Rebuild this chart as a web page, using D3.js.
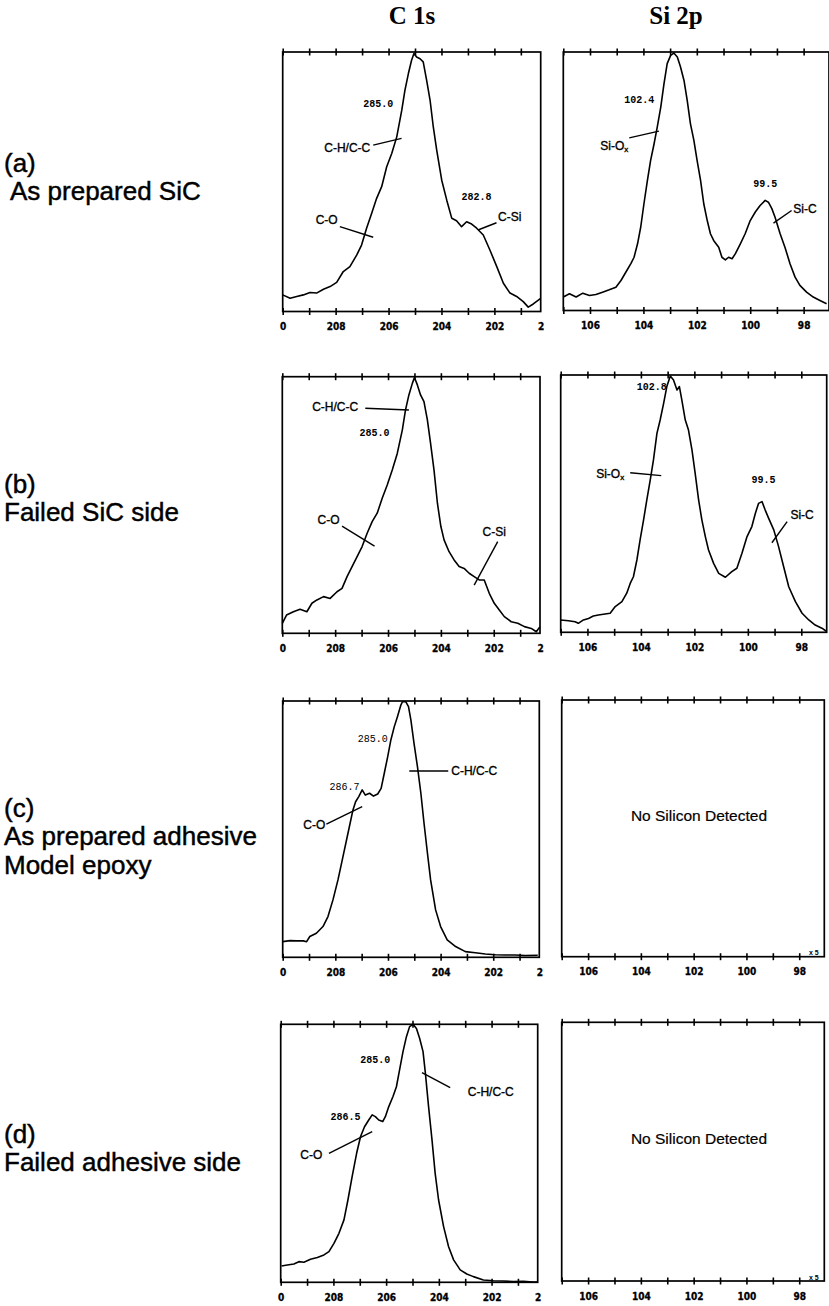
<!DOCTYPE html>
<html lang="en">
<head>
<meta charset="UTF-8">
<title>XPS C 1s and Si 2p spectra</title>
<script src="https://cdn.jsdelivr.net/npm/d3@7"></script>
<style>
  body { margin: 0; background: #fff; }
  .box { fill: none; stroke: #000; stroke-width: 1.7px; }
  .spec { fill: none; stroke: #000; stroke-width: 1.6px; stroke-linejoin: round; }
  .tick-x line { stroke: #000; stroke-width: 1.6px; }
  .tick-x path { display: none; }
  .lab-x path { display: none; }
  .lab-x text { font: bold 10px "Liberation Sans Narrow", "DejaVu Sans Condensed", sans-serif; fill: #000; stroke: #000; stroke-width: 0.3px; }
  .lead { stroke: #000; stroke-width: 1.4px; }
  .note { font: 12px "Liberation Sans", Arial, sans-serif; fill: #000; stroke: #000; stroke-width: 0.35px; }
  .num { font: bold 10px "Liberation Mono", "DejaVu Sans Mono", monospace; fill: #000; }
  .none { font: 15.5px "Liberation Sans", Arial, sans-serif; fill: #000; stroke: #000; stroke-width: 0.2px; }
  .mark { font: bold 7px "Liberation Sans", Arial, sans-serif; fill: #000; }
  .head { font: bold 25px "Liberation Serif", "Times New Roman", serif; fill: #000; }
  .rowlab { font: 26px "Liberation Sans", Arial, sans-serif; fill: #000; stroke: #000; stroke-width: 0.45px; }
</style>
</head>
<body>
<div id="chart"></div>
<script>
// column titles and row captions
const columnTitles = ["C 1s", "Si 2p"];
const rowCaptions = [
  ["(a)", " As prepared SiC"],
  ["(b)", "Failed SiC side"],
  ["(c)", "As prepared adhesive", "Model epoxy"],
  ["(d)", "Failed adhesive side"]
];

// axis ticks (binding energy, eV)
const c1sTicks = [210, 209, 208, 207, 206, 205, 204, 203, 202, 201];
const c1sLabelAt = [210, 208, 206, 204, 202, 200.25];
const c1sLabelText = ["0", "208", "206", "204", "202", "2"];
const siTicks = [107, 106, 105, 104, 103, 102, 101, 100, 99, 98, 97];
const siLabelAt = [106, 104, 102, 100, 98];
const siLabelText = ["106", "104", "102", "100", "98"];

// spectra: [binding energy, relative intensity]
const c1sA = [[210.00,6.4],[209.72,5.1],[209.47,5.8],[209.22,6.4],[208.97,7.3],[208.72,7.1],[208.46,8.6],[208.21,9.6],[207.96,11.2],[207.71,15.4],[207.46,17.3],[207.20,21.8],[207.02,25.6],[206.83,32.1],[206.64,37.8],[206.45,43.6],[206.26,48.1],[206.07,55.8],[205.88,60.9],[205.69,67.3],[205.50,77.6],[205.38,85.3],[205.25,91.7],[205.13,96.8],[205.04,99.4],[204.94,98.1],[204.81,97.4],[204.69,96.2],[204.56,89.1],[204.43,81.4],[204.31,71.2],[204.18,62.2],[203.99,50.6],[203.80,42.9],[203.61,35.9],[203.43,35.0],[203.24,32.7],[203.05,34.6],[202.86,33.7],[202.67,32.1],[202.42,29.5],[202.17,23.7],[201.91,17.3],[201.66,10.9],[201.41,7.1],[201.16,5.8],[200.91,3.8],[200.72,1.7],[200.53,2.9],[200.25,5.1]];

const siA = [[107.00,5.2],[106.77,6.5],[106.52,5.2],[106.27,6.7],[106.02,5.8],[105.78,6.2],[105.53,7.1],[105.28,8.0],[105.03,9.0],[104.84,11.6],[104.66,14.8],[104.47,18.1],[104.35,20.6],[104.22,25.8],[104.10,32.3],[103.98,41.3],[103.85,50.3],[103.73,58.1],[103.60,64.5],[103.48,71.0],[103.35,78.7],[103.23,87.7],[103.11,95.5],[102.98,98.7],[102.86,99.6],[102.73,98.1],[102.61,94.2],[102.48,89.0],[102.36,81.3],[102.24,72.3],[102.11,65.8],[101.99,58.1],[101.86,50.3],[101.74,41.3],[101.61,34.8],[101.49,29.7],[101.37,27.1],[101.18,24.5],[101.06,20.6],[100.93,19.6],[100.81,20.6],[100.68,20.0],[100.56,21.9],[100.37,25.8],[100.19,29.7],[100.00,34.8],[99.81,38.1],[99.63,40.6],[99.44,42.6],[99.32,41.9],[99.19,39.4],[99.07,36.1],[98.88,29.7],[98.70,24.5],[98.51,18.1],[98.32,12.9],[98.14,9.7],[97.89,7.1],[97.64,5.2],[97.39,3.9],[97.14,2.6]];

const c1sB = [[210.00,3.9],[209.84,7.1],[209.58,8.4],[209.33,9.4],[209.07,8.4],[208.88,11.7],[208.69,13.0],[208.44,14.3],[208.19,13.6],[207.93,16.2],[207.74,17.5],[207.55,22.1],[207.36,26.0],[207.17,29.9],[206.98,33.8],[206.79,39.0],[206.60,43.5],[206.41,46.8],[206.22,52.6],[206.03,57.8],[205.84,63.6],[205.65,70.1],[205.46,79.2],[205.34,87.0],[205.21,92.9],[205.08,97.4],[205.00,99.7],[204.89,96.8],[204.77,92.9],[204.64,90.3],[204.51,83.1],[204.39,74.0],[204.26,63.6],[204.13,50.6],[204.00,41.6],[203.88,36.4],[203.69,31.8],[203.50,28.6],[203.31,26.0],[203.12,25.3],[202.93,23.4],[202.74,22.1],[202.55,20.8],[202.36,20.8],[202.17,15.6],[201.98,11.7],[201.79,9.1],[201.60,6.5],[201.34,4.5],[201.09,3.9],[200.84,2.6],[200.58,1.9],[200.39,0.6],[200.25,2.6]];

const siB = [[107.00,4.8],[106.71,4.5],[106.46,4.1],[106.34,3.5],[106.15,4.8],[105.96,5.4],[105.78,6.3],[105.59,6.7],[105.34,7.1],[105.15,7.4],[104.96,10.0],[104.71,11.9],[104.53,15.2],[104.40,19.0],[104.28,21.6],[104.15,28.1],[104.03,35.9],[103.90,43.7],[103.78,51.4],[103.65,59.2],[103.53,67.0],[103.40,77.3],[103.28,82.5],[103.15,89.0],[103.03,95.5],[102.90,99.6],[102.78,98.1],[102.65,94.2],[102.56,95.5],[102.47,90.3],[102.34,82.5],[102.22,78.6],[102.09,70.9],[101.97,61.8],[101.84,51.4],[101.72,43.7],[101.59,37.2],[101.47,32.0],[101.28,26.8],[101.09,22.9],[100.84,21.4],[100.60,23.6],[100.41,24.9],[100.22,30.7],[100.03,37.2],[99.85,41.1],[99.72,46.2],[99.60,50.1],[99.47,50.8],[99.35,47.5],[99.22,44.3],[99.03,39.8],[98.85,33.3],[98.66,25.5],[98.47,17.7],[98.22,11.9],[97.97,7.4],[97.72,4.8],[97.48,2.8],[97.23,1.6],[97.05,0.3]];

const c1sC = [[210.00,6.1],[209.72,6.5],[209.47,6.4],[209.22,6.4],[209.09,6.1],[208.97,8.1],[208.72,9.4],[208.47,12.0],[208.28,15.9],[208.09,22.4],[207.90,30.2],[207.71,39.3],[207.52,48.4],[207.33,57.5],[207.23,60.7],[207.11,62.7],[206.98,65.3],[206.86,63.3],[206.70,64.0],[206.55,62.9],[206.39,63.7],[206.26,65.9],[206.14,71.8],[206.01,78.3],[205.89,84.8],[205.76,90.0],[205.64,93.9],[205.51,98.4],[205.45,99.7],[205.32,99.7],[205.22,97.8],[205.13,92.6],[205.01,83.5],[204.88,74.4],[204.75,64.0],[204.63,52.3],[204.50,40.6],[204.38,30.2],[204.19,18.5],[204.00,12.0],[203.75,6.8],[203.43,4.2],[203.06,2.2],[202.68,1.8],[202.30,1.3],[201.92,1.0],[201.55,0.9],[201.17,0.9],[200.79,0.7],[200.31,0.8]];

const c1sD = [[209.97,6.3],[209.75,6.7],[209.50,7.1],[209.31,8.0],[209.12,7.8],[208.87,8.9],[208.61,9.6],[208.36,10.6],[208.17,11.9],[207.98,15.1],[207.79,19.0],[207.60,24.2],[207.45,31.9],[207.29,41.0],[207.12,50.0],[206.97,56.5],[206.82,60.3],[206.66,62.9],[206.53,64.9],[206.41,64.2],[206.28,62.9],[206.13,62.3],[206.03,64.2],[205.90,68.1],[205.74,72.0],[205.61,75.8],[205.49,82.3],[205.36,89.4],[205.23,95.2],[205.11,99.1],[204.98,100],[204.85,98.4],[204.73,94.6],[204.60,89.4],[204.51,81.0],[204.39,68.1],[204.26,55.2],[204.14,42.2],[204.01,31.9],[203.82,21.6],[203.63,13.8],[203.44,8.7],[203.19,4.8],[202.94,3.2],[202.69,2.2],[202.31,0.9],[201.93,0.6],[201.55,0.5],[201.17,0.3],[200.80,0.4],[200.42,0.1],[200.25,0.1]];

// peak annotations: label position [eV, intensity], optional leader line
const c1sANotes = [
  { t: "285.0", num: true, e: 206.39, v: 80.2 },
  { t: "C-H/C-C", e: 207.56, v: 63.1, line: [206.58, 64.1, 205.51, 66.7] },
  { t: "C-O", e: 208.34, v: 35.3, line: [207.84, 32.7, 206.58, 28.6] },
  { t: "282.8", num: true, e: 202.68, v: 44.2 },
  { t: "C-Si", e: 201.42, v: 36.5, line: [201.92, 34.2, 202.62, 31.4] }
];
const siANotes = [
  { t: "102.4", num: true, e: 104.16, v: 81.5 },
  { t: "Si-O", sub: "x", e: 105.09, v: 63.9, line: [104.53, 66.8, 103.42, 69.4] },
  { t: "99.5", num: true, e: 99.44, v: 49.0 },
  { t: "Si-C", e: 97.95, v: 39.4, line: [98.45, 38.7, 99.13, 33.8] }
];
const c1sBNotes = [
  { t: "C-H/C-C", e: 208.0, v: 88.1, line: [206.86, 87.7, 205.21, 87.0] },
  { t: "285.0", num: true, e: 206.51, v: 78.2 },
  { t: "C-O", e: 208.25, v: 44.4, line: [207.74, 41.8, 206.51, 34.0] },
  { t: "C-Si", e: 201.98, v: 39.6, line: [201.85, 35.7, 202.74, 18.8] }
];
const siBNotes = [
  { t: "102.8", num: true, e: 103.59, v: 95.5 },
  { t: "Si-O", sub: "x", e: 105.15, v: 61.5, line: [104.40, 62.0, 103.24, 60.9] },
  { t: "99.5", num: true, e: 99.41, v: 59.5 },
  { t: "Si-C", e: 97.97, v: 45.6, line: [98.53, 43.0, 99.10, 34.8] }
];
const c1sCNotes = [
  { t: "285.0", num: true, thin: true, e: 206.58, v: 85.4 },
  { t: "286.7", num: true, thin: true, e: 207.65, v: 66.8 },
  { t: "C-H/C-C", e: 202.72, v: 72.7, line: [205.19, 72.7, 203.71, 72.7] },
  { t: "C-O", e: 208.80, v: 51.6, line: [208.34, 52.0, 206.98, 58.8] }
];
const c1sDNotes = [
  { t: "285.0", num: true, e: 206.41, v: 86.2 },
  { t: "286.5", num: true, e: 207.54, v: 64.2 },
  { t: "C-H/C-C", e: 202.03, v: 73.9, line: [204.64, 81.3, 203.57, 75.5] },
  { t: "C-O", e: 208.84, v: 49.4, line: [208.17, 50.0, 206.53, 58.4] }
];
const noSiNotes = [
  { t: "No Silicon Detected", big: true, e: 101.8, v: 55 },
  { t: "x 5", mark: true, e: 97.45, v: 1.5 }
];

// panel frames
const panels = [
  { kind: "c1s", x0: 282.7, x1: 540.7, y0: 52,    y1: 311.5,  data: c1sA, notes: c1sANotes },
  { kind: "si",  x0: 563.3, x1: 829,   y0: 52,    y1: 310.5,  data: siA,  notes: siANotes },
  { kind: "c1s", x0: 282.3, x1: 540,   y0: 376.7, y1: 633.3,  data: c1sB, notes: c1sBNotes },
  { kind: "si",  x0: 560.7, x1: 826.7, y0: 375,   y1: 632.3,  data: siB,  notes: siBNotes },
  { kind: "c1s", x0: 282.7, x1: 539.3, y0: 701,   y1: 957.3,  data: c1sC, notes: c1sCNotes },
  { kind: "si",  x0: 561.7, x1: 824.3, y0: 700,   y1: 956.7,  data: null, notes: noSiNotes },
  { kind: "c1s", x0: 280.7, x1: 537.7, y0: 1024.3, y1: 1282.3, data: c1sD, notes: c1sDNotes },
  { kind: "si",  x0: 561.7, x1: 824.3, y0: 1022.3, y1: 1281,  data: null, notes: noSiNotes }
];

const svg = d3.select("#chart").append("svg")
  .attr("width", 829)
  .attr("height", 1306);

// column titles
svg.selectAll("text.head")
  .data(columnTitles)
  .enter().append("text")
  .attr("class", "head")
  .attr("x", (d, i) => i === 0 ? 412 : 676)
  .attr("y", 24)
  .attr("text-anchor", "middle")
  .text(d => d);

// row captions
const captionY = [172, 493, 817, 1143];
rowCaptions.forEach((lines, r) => {
  const t = svg.append("text").attr("class", "rowlab");
  lines.forEach((s, k) => {
    t.append("tspan")
      .attr("x", s.startsWith(" ") ? 10 : 4)
      .attr("y", captionY[r] + k * 28.3)
      .text(s.trim());
  });
});

function drawPanel(p) {
  const isC = p.kind === "c1s";
  const x = d3.scaleLinear()
    .domain(isC ? [210, 200.25] : [107, 97.05])
    .range([p.x0, p.x1]);
  const y = d3.scaleLinear().domain([0, 100]).range([p.y1, p.y0]);
  const g = svg.append("g");

  g.append("rect").attr("class", "box")
    .attr("x", p.x0).attr("y", p.y0)
    .attr("width", p.x1 - p.x0).attr("height", p.y1 - p.y0);

  const ticks = (isC ? c1sTicks : siTicks).filter(v => x(v) <= p.x1 + 1);
  // crossing tick marks on top and bottom frame lines
  [p.y0, p.y1].forEach(yy => {
    g.append("g").attr("class", "tick-x")
      .attr("transform", `translate(0,${yy})`)
      .call(d3.axisTop(x).tickValues(ticks).tickSize(3.5).tickFormat(""));
    g.append("g").attr("class", "tick-x")
      .attr("transform", `translate(0,${yy})`)
      .call(d3.axisBottom(x).tickValues(ticks).tickSize(3.5).tickFormat(""));
  });

  const labAt = isC ? c1sLabelAt : siLabelAt;
  const labText = isC ? c1sLabelText : siLabelText;
  g.append("g").attr("class", "lab-x")
    .attr("transform", `translate(0,${p.y1})`)
    .call(d3.axisBottom(x).tickValues(labAt).tickSize(0).tickPadding(11.5)
      .tickFormat((d, i) => labText[i]));

  if (p.data) {
    const line = d3.line().x(d => x(d[0])).y(d => y(d[1]));
    g.append("path").attr("class", "spec").datum(p.data).attr("d", line);
  }

  p.notes.forEach(n => {
    if (n.line) {
      g.append("line").attr("class", "lead")
        .attr("x1", x(n.line[0])).attr("y1", y(n.line[1]))
        .attr("x2", x(n.line[2])).attr("y2", y(n.line[3]));
    }
    const cls = n.mark ? "mark" : (n.big ? "none" : (n.num ? "num" : "note"));
    const t = g.append("text")
      .attr("class", cls)
      .attr("x", x(n.e)).attr("y", y(n.v))
      .attr("dy", "0.35em")
      .attr("text-anchor", "middle")
      .style("font-weight", n.thin ? "normal" : null);
    t.append("tspan").text(n.t);
    if (n.sub) {
      t.append("tspan").attr("dy", "0.25em").style("font-size", "8px").text(n.sub);
    }
  });
}

panels.forEach(drawPanel);
</script>
</body>
</html>
